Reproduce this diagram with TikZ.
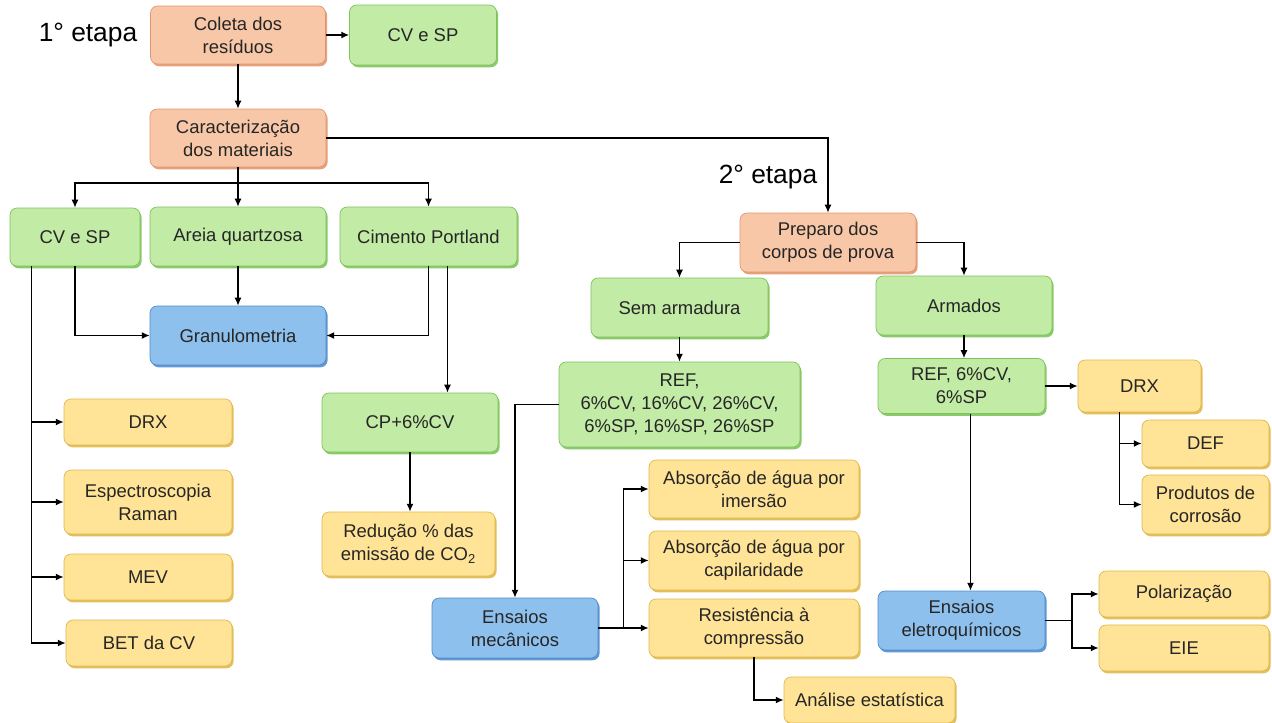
\documentclass[tikz,border=0pt]{standalone}
\usepackage{fontspec}
\setmainfont{Liberation Sans}
\usetikzlibrary{arrows.meta,shadows,calc}
\definecolor{orfill}{RGB}{248,199,167}
\definecolor{orline}{RGB}{226,150,110}
\definecolor{grfill}{RGB}{194,235,166}
\definecolor{grline}{RGB}{125,196,90}
\definecolor{blfill}{RGB}{142,192,238}
\definecolor{blline}{RGB}{80,140,205}
\definecolor{yefill}{RGB}{255,227,150}
\definecolor{yeline}{RGB}{225,184,75}
\newcommand{\boxfont}{\fontsize{10.5}{13}\selectfont}
\tikzset{
  box/.style={rounded corners=4pt, align=center, inner sep=1pt, font=\boxfont, line width=0.4pt, text=black!85},
  orangebox/.style={box, fill=orfill, draw=orline, drop shadow={shadow xshift=0.9pt, shadow yshift=-1.3pt, fill=orline, opacity=0.9}},
  greenbox/.style={box, fill=grfill, draw=grline, drop shadow={shadow xshift=0.9pt, shadow yshift=-1.3pt, fill=grline, opacity=0.9}},
  bluebox/.style={box, fill=blfill, draw=blline, drop shadow={shadow xshift=0.9pt, shadow yshift=-1.3pt, fill=blline, opacity=0.9}},
  yellowbox/.style={box, fill=yefill, draw=yeline, drop shadow={shadow xshift=0.9pt, shadow yshift=-1.3pt, fill=yeline, opacity=0.9}},
  arr/.style={-{Latex[length=4.5pt,width=4pt]}},
  stage/.style={font=\fontsize{15}{18}\selectfont},
}
\begin{document}
\begin{tikzpicture}[x=0.02cm,y=-0.02cm,line width=0.75pt]
\useasboundingbox (0,0) rectangle (1272,723);
\node[stage] (st1) at (88,35) {1° etapa};
\node[stage] (st2) at (768,177) {2° etapa};

\node[orangebox,minimum width=3.5cm,minimum height=1.16cm] (coleta) at (238,35) {Coleta dos\\resíduos};
\node[greenbox,minimum width=2.94cm,minimum height=1.2cm] (cvsp1) at (423,35) {CV e SP};
\node[orangebox,minimum width=3.52cm,minimum height=1.16cm] (carac) at (238,138) {Caracterização\\dos materiais};
\node[greenbox,minimum width=2.6cm,minimum height=1.16cm] (cvsp2) at (75,237) {CV e SP};
\node[greenbox,minimum width=3.52cm,minimum height=1.18cm] (areia) at (238,236.5) {Areia quartzosa};
\node[greenbox,minimum width=3.54cm,minimum height=1.18cm] (cimento) at (428.5,236.5) {Cimento Portland};
\node[bluebox,minimum width=3.52cm,minimum height=1.18cm] (granulo) at (238,335.5) {Granulometria};
\node[yellowbox,minimum width=3.36cm,minimum height=0.92cm] (drx1) at (148,422) {DRX};
\node[yellowbox,minimum width=3.36cm,minimum height=1.28cm] (raman) at (148,502) {Espectroscopia\\Raman};
\node[yellowbox,minimum width=3.36cm,minimum height=0.92cm] (mev) at (148,577) {MEV};
\node[yellowbox,minimum width=3.32cm,minimum height=0.92cm] (bet) at (149,643) {BET da CV};
\node[greenbox,minimum width=3.52cm,minimum height=1.18cm] (cp) at (410,422.5) {CP+6\%CV};
\node[yellowbox,minimum width=3.46cm,minimum height=1.28cm] (reduc) at (408.5,544) {Redução \% das\\emissão de CO\textsubscript{2}};

\node[orangebox,minimum width=3.52cm,minimum height=1.18cm] (preparo) at (828,242.5) {Preparo dos\\corpos de prova};
\node[greenbox,minimum width=3.54cm,minimum height=1.18cm] (sem) at (679.5,307.5) {Sem armadura};
\node[greenbox,minimum width=3.52cm,minimum height=1.18cm] (armados) at (964,305.5) {Armados};
\node[greenbox,minimum width=4.82cm,minimum height=1.7cm] (refs) at (679.5,404.5) {REF,\\6\%CV, 16\%CV, 26\%CV,\\6\%SP, 16\%SP, 26\%SP};
\node[greenbox,minimum width=3.34cm,minimum height=1.1cm] (ref6) at (961.5,386) {REF, 6\%CV,\\6\%SP};
\node[yellowbox,minimum width=2.46cm,minimum height=1.04cm] (drx2) at (1139.5,386) {DRX};
\node[yellowbox,minimum width=2.54cm,minimum height=0.94cm] (def) at (1205.5,443.5) {DEF};
\node[yellowbox,minimum width=2.54cm,minimum height=1.18cm] (prod) at (1205.5,504.5) {Produtos de\\corrosão};
\node[yellowbox,minimum width=4.2cm,minimum height=1.16cm] (abs1) at (754,489) {Absorção de água por\\imersão};
\node[yellowbox,minimum width=4.2cm,minimum height=1.18cm] (abs2) at (754,560.5) {Absorção de água por\\capilaridade};
\node[yellowbox,minimum width=4.2cm,minimum height=1.16cm] (resist) at (754,628) {Resistência à\\compressão};
\node[bluebox,minimum width=3.32cm,minimum height=1.2cm] (mecan) at (515,628) {Ensaios\\mecânicos};
\node[yellowbox,minimum width=3.42cm,minimum height=0.92cm] (analise) at (869.5,700) {Análise estatística};
\node[bluebox,minimum width=3.34cm,minimum height=1.18cm] (eletro) at (961.5,620.5) {Ensaios\\eletroquímicos};
\node[yellowbox,minimum width=3.4cm,minimum height=0.92cm] (polar) at (1184,594) {Polarização};
\node[yellowbox,minimum width=3.4cm,minimum height=0.92cm] (eie) at (1184,648) {EIE};

\coordinate (bus1) at (238,183);
\coordinate (lb) at ([xshift=0.44cm]cvsp2.south west);
\coordinate (mb) at ($(mecan.east)!0.5!(resist.west)$);
\coordinate (db) at ([xshift=0.84cm]drx2.south west);
\coordinate (eb) at ($(eletro.east)!0.5!(polar.west |- eletro.east)$);

\draw[arr] (coleta) -- (cvsp1);
\draw[arr] (coleta) -- (carac);
\draw (carac.south) -- (bus1);
\draw[arr] (bus1) -| (cvsp2.north);
\draw[arr] (bus1) -- (areia.north);
\draw[arr] (bus1) -| (cimento.north);
\draw[arr] (carac.east) -| (preparo.north);
\draw[arr] (cvsp2.south) |- (granulo.west);
\draw[arr] (areia) -- (granulo);
\draw[arr] (cimento.south) |- (granulo.east);
\draw[arr] ([xshift=0.38cm]cimento.south) -- ([xshift=0.38cm]cimento.south |- cp.north);
\draw[arr] (lb) |- (bet.west);
\foreach \n in {drx1,raman,mev}
  \draw[arr] (lb |- \n.west) -- (\n.west);
\draw[arr] (cp.south) -- (cp.south |- reduc.north);

\draw[arr] (preparo.west) -| (sem.north);
\draw[arr] (preparo.east) -| (armados.north);
\draw[arr] (sem) -- (refs);
\draw[arr] (armados.south) -- (armados.south |- ref6.north);
\draw[arr] (refs.west) -| (mecan.north);
\draw[arr] (mecan.east) -- (resist.west);
\draw[arr] (mb) |- (abs1.west);
\draw[arr] (mb) |- (abs2.west);
\draw[arr] (resist.south) |- (analise.west);
\draw[arr] (ref6) -- (drx2);
\draw[arr] (db) |- (def.west);
\draw[arr] (db) |- (prod.west);
\draw[arr] ([xshift=0.18cm]ref6.south) -- ([xshift=0.18cm]ref6.south |- eletro.north);
\draw (eletro.east) -- (eb);
\draw[arr] (eb) |- (polar.west);
\draw[arr] (eb) |- (eie.west);
\end{tikzpicture}
\end{document}
